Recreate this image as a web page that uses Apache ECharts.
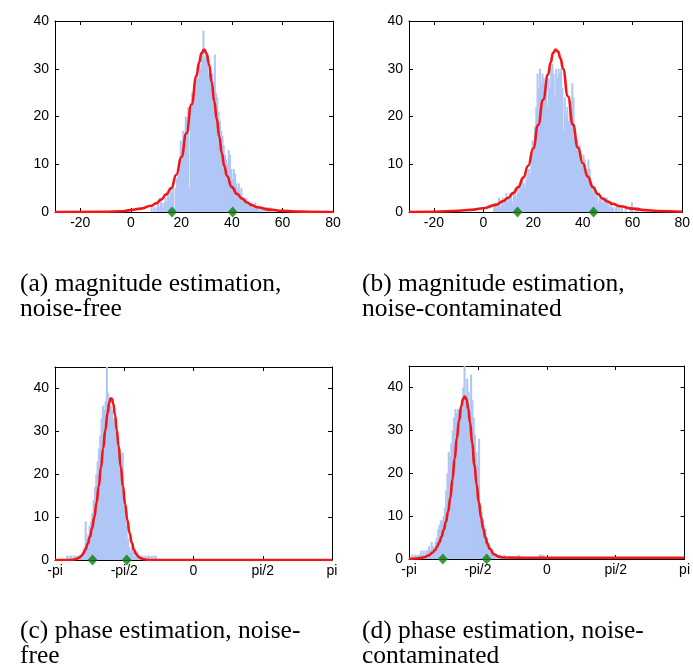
<!DOCTYPE html>
<html>
<head>
<meta charset="utf-8">
<script src="https://cdn.jsdelivr.net/npm/echarts@6/dist/echarts.min.js"></script>
<style>
  html, body { margin: 0; padding: 0; background: #fff; }
  #chart { width: 693px; height: 671px; }
</style>
</head>
<body>
<div id="chart"></div>
<script>
// ---------- magnitude estimates (histogram bins of width 0.5) ----------
const magBinWidth = 0.5;
const magTicks = [-20, 0, 20, 40, 60, 80];

const magFreeStart = 8;
const magFreeCounts = [
  1, 0, 1, 0, 1, 2, 1, 3, 2, 1, 2, 3, 2, 4, 3, 5, 4, 6, 1, 5,
  7, 9, 11, 15, 13, 17, 16, 20, 19, 22, 5, 21, 25, 24, 27, 26, 29, 28, 31, 30,
  33, 38, 32, 34, 31, 29, 30, 27, 29, 26, 33, 25, 24, 21, 19, 17, 16, 14, 12, 11,
  10, 13, 12, 9, 7, 9, 8, 6, 5, 6, 4, 5, 3, 3, 2, 3, 2, 2, 1, 2,
  1, 1, 2, 1, 1, 0, 1, 1, 0, 1, 0, 1, 1, 0, 1
];
const magFreeFit = [
  [-30, 0], [-10, 0.05], [-4, 0.15], [0, 0.4], [4, 0.7], [8, 1.3], [10, 1.8], [12, 2.6],
  [14, 3.7], [16, 5], [18, 7.8], [20, 11.5], [22, 16.5], [24, 22.5], [26, 28.5], [27, 31.3],
  [28, 33.3], [29, 34], [30, 33.2], [31, 30.8], [32, 27.2], [33, 23.2], [34, 19.5], [35, 15.8],
  [36, 12.3], [37, 9.6], [38, 7.6], [40, 5.2], [42, 3.8], [44, 2.8], [46, 2], [48, 1.4],
  [50, 1], [55, 0.5], [60, 0.25], [65, 0.1], [70, 0.05], [80, 0]
];
const magFreeMarks = [16.3, 40.3];

const magNoisyStart = 4;
const magNoisyCounts = [
  1, 2, 1, 2, 3, 1, 2, 3, 2, 3, 4, 2, 3, 4, 3, 2, 4, 5, 3, 5,
  4, 6, 5, 7, 6, 5, 7, 8, 9, 8, 12, 15, 14, 18, 22, 29, 26, 30, 27, 29,
  28, 24, 27, 22, 28, 26, 30, 31, 29, 24, 30, 28, 30, 29, 30, 26, 17, 24, 20, 22,
  19, 21, 18, 27, 24, 16, 14, 15, 13, 14, 12, 10, 12, 11, 8, 7, 11, 9, 5, 6,
  4, 5, 3, 4, 2, 3, 3, 2, 3, 2, 3, 3, 2, 1, 2, 1, 1, 0, 1, 1,
  0, 1, 0, 1, 0, 0, 1, 0, 0, 0, 1, 2, 0, 0, 1, 0, 1, 0
];
const magNoisyFit = [
  [-30, 0], [-20, 0.05], [-10, 0.25], [-5, 0.45], [0, 0.8], [5, 1.5], [8, 2.3], [10, 3],
  [12, 4], [14, 5.2], [16, 7.2], [18, 9.7], [20, 13.3], [22, 18.2], [24, 23.5], [26, 28.8],
  [27, 31.3], [28, 33.3], [29, 34], [30, 33.6], [31, 32.2], [32, 30], [34, 24.2], [36, 18.3],
  [38, 13.5], [40, 10.2], [42, 7.4], [44, 5.2], [46, 3.8], [48, 2.8], [50, 2.2], [52, 1.7],
  [55, 1.2], [60, 0.7], [65, 0.4], [70, 0.2], [80, 0.05]
];
const magNoisyMarks = [13.7, 44.3];

// ---------- phase estimates (histogram bins of width 0.03 rad) ----------
const phaseBinWidth = 0.03;
const phaseTicks = [-Math.PI, -Math.PI / 2, 0, Math.PI / 2, Math.PI];
const phaseTickLabels = ['-pi', '-pi/2', '0', 'pi/2', 'pi'];

const phaseFreeStart = -2.88;
const phaseFreeCounts = [
  1, 0, 1, 1, 0, 1, 1, 0, 1, 0, 1, 1, 2, 3, 9, 5, 6, 8, 9, 11,
  14, 17, 20, 23, 26, 29, 33, 36, 35, 37, 45, 39, 37, 36, 35, 33, 32, 30, 28, 25,
  26, 20, 25, 13, 10, 8, 5, 3, 2, 3, 2, 1, 1, 2, 1, 0, 1, 1, 0, 1,
  0, 1, 1, 0, 1, 0, 1, 1
];
const phaseFreeFit = [
  [-3.1416, 0], [-2.8, 0], [-2.7, 0.1], [-2.6, 0.5], [-2.55, 0.9], [-2.5, 1.5], [-2.45, 2.5],
  [-2.4, 3.8], [-2.35, 5.4], [-2.3, 7.4], [-2.25, 10], [-2.2, 13.3], [-2.15, 17.2], [-2.1, 21.5],
  [-2.05, 26], [-2.0, 30.3], [-1.95, 34.2], [-1.91, 36.7], [-1.88, 37.7], [-1.85, 37.6],
  [-1.82, 36.4], [-1.78, 33.8], [-1.74, 30.3], [-1.7, 26.6], [-1.65, 21.8], [-1.6, 17.2],
  [-1.55, 13], [-1.5, 9.3], [-1.45, 6.3], [-1.4, 4], [-1.35, 2.4], [-1.3, 1.4], [-1.25, 0.8],
  [-1.2, 0.4], [-1.1, 0.1], [-1.0, 0], [3.1416, 0]
];
const phaseFreeMarks = [-2.29, -1.515];

const phaseNoisyStart = -3.09;
const phaseNoisyCounts = [
  1, 0, 1, 1, 0, 1, 1, 2, 1, 2, 1, 2, 2, 3, 2, 4, 3, 2, 4, 5,
  7, 8, 9, 9, 10, 12, 16, 20, 25, 24, 27, 30, 33, 35, 34, 35, 31, 35, 37, 40,
  45, 38, 42, 39, 36, 43, 37, 33, 29, 25, 22, 28, 13, 11, 9, 8, 7, 5, 4, 3,
  2, 2, 1, 1, 1, 0, 1, 1, 0,
  0, 1, 0, 0, 0, 0, 0, 0, 0, 0, 0, 0, 1, 0, 0, 0, 0, 0, 0, 0,
  0, 0, 0, 0, 0, 0, 0, 0, 1, 1, 0, 1, 0
];
const phaseNoisyFit = [
  [-3.1416, 0], [-3.0, 0.1], [-2.9, 0.2], [-2.8, 0.4], [-2.7, 0.8], [-2.6, 1.5], [-2.55, 2.1],
  [-2.5, 2.9], [-2.45, 3.9], [-2.4, 5.2], [-2.35, 6.8], [-2.3, 8.7], [-2.25, 11], [-2.2, 14.2],
  [-2.15, 18.6], [-2.1, 23.4], [-2.05, 28.2], [-2.0, 32.3], [-1.95, 35.6], [-1.91, 37.3],
  [-1.87, 37.9], [-1.83, 37.2], [-1.79, 35], [-1.75, 31.8], [-1.7, 27], [-1.65, 22],
  [-1.6, 17.4], [-1.55, 13.2], [-1.5, 9.8], [-1.45, 7.1], [-1.4, 5], [-1.35, 3.5], [-1.3, 2.4],
  [-1.2, 1.1], [-1.1, 0.55], [-1.0, 0.35], [-0.5, 0.3], [0, 0.3], [3.1416, 0.3]
];
const phaseNoisyMarks = [-2.37, -1.37];

const yTicks40 = [0, 10, 20, 30, 40];

const captions = [
  ['(a) magnitude estimation,', 'noise-free'],
  ['(b) magnitude estimation,', 'noise-contaminated'],
  ['(c) phase estimation, noise-', 'free'],
  ['(d) phase estimation, noise-', 'contaminated']
];

// ---------- drawing ----------
const BAR_COLOR = '#b0c7f6';
const FIT_COLOR = '#f21616';
const MARK_COLOR = '#0f7d12';
const AXIS_COLOR = '#000';
const LABEL_FONT = 'Liberation Sans, Arial, Helvetica, sans-serif';

const panels = [
  { box: { left: 55, top: 21, width: 278, height: 191 }, xMin: -30, xMax: 80, yMax: 40,
    xTicks: magTicks, xLabels: null, start: magFreeStart, bw: magBinWidth,
    counts: magFreeCounts, fit: magFreeFit, marks: magFreeMarks },
  { box: { left: 409, top: 21, width: 276, height: 191 }, xMin: -30, xMax: 80, yMax: 40,
    xTicks: magTicks, xLabels: null, start: magNoisyStart, bw: magBinWidth,
    counts: magNoisyCounts, fit: magNoisyFit, marks: magNoisyMarks },
  { box: { left: 55, top: 367, width: 277, height: 193 }, xMin: -Math.PI, xMax: Math.PI, yMax: 45,
    xTicks: phaseTicks, xLabels: phaseTickLabels, start: phaseFreeStart, bw: phaseBinWidth,
    counts: phaseFreeCounts, fit: phaseFreeFit, marks: phaseFreeMarks },
  { box: { left: 409, top: 366, width: 276, height: 193 }, xMin: -Math.PI, xMax: Math.PI, yMax: 45,
    xTicks: phaseTicks, xLabels: phaseTickLabels, start: phaseNoisyStart, bw: phaseBinWidth,
    counts: phaseNoisyCounts, fit: phaseNoisyFit, marks: phaseNoisyMarks }
];

const grid = [], xAxis = [], yAxis = [], series = [];

function tickFormatter(ticks, labels) {
  return function (v) {
    if (!labels) return String(Math.round(v));
    const i = ticks.findIndex(t => Math.abs(t - v) < 1e-6);
    return i >= 0 ? labels[i] : '';
  };
}

panels.forEach((p, i) => {
  grid.push(Object.assign({ containLabel: false }, p.box));

  const lineStyle = { color: AXIS_COLOR, width: 1 };
  const baseX = {
    type: 'value', gridIndex: i, min: p.xMin, max: p.xMax,
    splitLine: { show: false },
    axisLine: { show: true, onZero: false, lineStyle }
  };
  xAxis.push(Object.assign({}, baseX, {
    position: 'bottom',
    axisTick: { show: true, inside: true, length: 4, customValues: p.xTicks, lineStyle },
    axisLabel: {
      show: true, customValues: p.xTicks, formatter: tickFormatter(p.xTicks, p.xLabels),
      color: '#000', fontSize: 14, fontFamily: LABEL_FONT, margin: 4,
      showMinLabel: true, showMaxLabel: true
    }
  }));
  xAxis.push(Object.assign({}, baseX, {
    position: 'top',
    axisTick: { show: true, inside: true, length: 4, customValues: p.xTicks, lineStyle },
    axisLabel: { show: false }
  }));

  const baseY = {
    type: 'value', gridIndex: i, min: 0, max: p.yMax,
    splitLine: { show: false },
    axisLine: { show: true, onZero: false, lineStyle }
  };
  yAxis.push(Object.assign({}, baseY, {
    position: 'left',
    axisTick: { show: true, inside: true, length: 4, customValues: yTicks40, lineStyle },
    axisLabel: {
      show: true, customValues: yTicks40, color: '#000', fontSize: 14,
      fontFamily: LABEL_FONT, margin: 6, padding: [0, 0, 5, 0]
    }
  }));
  yAxis.push(Object.assign({}, baseY, {
    position: 'right',
    axisTick: { show: true, inside: true, length: 4, customValues: yTicks40, lineStyle },
    axisLabel: { show: false }
  }));

  // histogram: one rectangle per bin, placed through the axis scales
  const binData = p.counts.map((c, k) => {
    const x0 = p.start + k * p.bw;
    return [x0, x0 + p.bw, c];
  });
  series.push({
    type: 'custom', xAxisIndex: 2 * i, yAxisIndex: 2 * i,
    encode: { x: [0, 1], y: 2 }, clip: true, z: 1,
    data: binData,
    renderItem: function (params, api) {
      const a = api.coord([api.value(0), 0]);
      const b = api.coord([api.value(1), api.value(2)]);
      // widen slightly so neighbouring bins join without seams
      return {
        type: 'rect',
        shape: { x: a[0] - 0.4, y: b[1], width: (b[0] - a[0]) + 0.8, height: a[1] - b[1] },
        style: { fill: BAR_COLOR }
      };
    }
  });

  // fitted density
  series.push({
    type: 'line', xAxisIndex: 2 * i, yAxisIndex: 2 * i,
    data: p.fit, smooth: 0.5, smoothMonotone: 'x', showSymbol: false, symbol: 'none',
    lineStyle: { color: FIT_COLOR, width: 2.6 }, z: 3, clip: true
  });

  // interval end points on the baseline
  series.push({
    type: 'scatter', xAxisIndex: 2 * i, yAxisIndex: 2 * i,
    data: p.marks.map(m => [m, 0]), symbol: 'diamond', symbolSize: [10, 11],
    itemStyle: { color: MARK_COLOR }, z: 5, clip: false
  });
});

// captions under each panel
const captionPos = [[20, 284], [362, 284], [20, 631], [362, 631]];
const graphic = [];
captions.forEach((lines, i) => {
  lines.forEach((t, j) => {
    graphic.push({
      type: 'text', x: captionPos[i][0], y: captionPos[i][1] + j * 25,
      scaleX: 1.02, scaleY: 1,
      style: {
        text: t, x: 0, y: 0, fill: '#000',
        font: '25px "Liberation Serif", "Times New Roman", serif',
        textVerticalAlign: 'middle', verticalAlign: 'middle', align: 'left'
      }
    });
  });
});

const chart = echarts.init(document.getElementById('chart'), null, { renderer: 'canvas' });
chart.setOption({
  animation: false,
  backgroundColor: '#fff',
  grid, xAxis, yAxis, series, graphic
});
</script>
</body>
</html>
